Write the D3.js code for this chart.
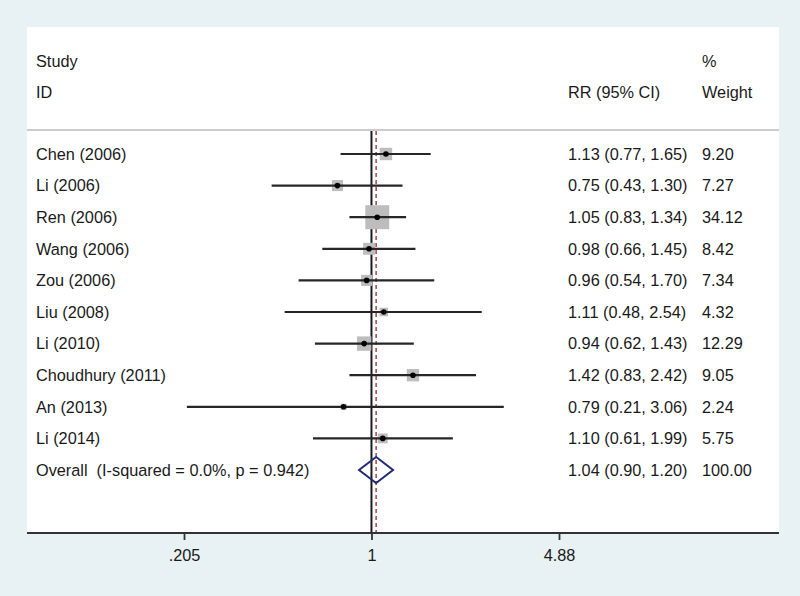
<!DOCTYPE html>
<html>
<head>
<meta charset="utf-8">
<script src="https://cdn.jsdelivr.net/npm/d3@7"></script>
<style>
  html, body { margin: 0; padding: 0; background: #e8f1f4; }
  svg { display: block; }
  text { font-family: "Liberation Sans", Arial, Helvetica, sans-serif; fill: #1a1a1a; }
</style>
</head>
<body>
<svg id="chart" width="800" height="596"></svg>
<script>
const studies = ["Chen (2006)", "Li (2006)", "Ren (2006)", "Wang (2006)", "Zou (2006)",
                 "Liu (2008)", "Li (2010)", "Choudhury (2011)", "An (2013)", "Li (2014)"];
const rr      = [1.13, 0.75, 1.05, 0.98, 0.96, 1.11, 0.94, 1.42, 0.79, 1.10];
const lower   = [0.77, 0.43, 0.83, 0.66, 0.54, 0.48, 0.62, 0.83, 0.21, 0.61];
const upper   = [1.65, 1.30, 1.34, 1.45, 1.70, 2.54, 1.43, 2.42, 3.06, 1.99];
const weights = [9.20, 7.27, 34.12, 8.42, 7.34, 4.32, 12.29, 9.05, 2.24, 5.75];

const overallLabel = "Overall  (I-squared = 0.0%, p = 0.942)";
const overallRR = 1.04, overallLo = 0.90, overallHi = 1.20, overallW = 100.00;

const tickValues = [0.205, 1, 4.88];
const tickLabels = [".205", "1", "4.88"];

const svg = d3.select("#chart");
const panel = {x0: 27, x1: 779, y0: 27, y1: 533};
const fs = 16.3;

// white panel
svg.append("rect").attr("x", panel.x0).attr("y", panel.y0)
  .attr("width", panel.x1 - panel.x0).attr("height", panel.y1 - panel.y0)
  .attr("fill", "#ffffff");

const x = d3.scaleLog().domain([0.205, 4.88]).range([184, 559]);
const y = d3.scaleLinear().domain([0, 10]).range([154, 470]);
const lineTop = 131;

// headers
const hdr = svg.append("g").attr("font-size", fs);
hdr.append("text").attr("x", 36).attr("y", 61).attr("dy", "0.35em").text("Study");
hdr.append("text").attr("x", 36).attr("y", 92).attr("dy", "0.35em").text("ID");
hdr.append("text").attr("x", 568).attr("y", 92).attr("dy", "0.35em").text("RR (95% CI)");
hdr.append("text").attr("x", 702).attr("y", 61).attr("dy", "0.35em").text("%");
hdr.append("text").attr("x", 702).attr("y", 92).attr("dy", "0.35em").text("Weight");

// separator
svg.append("line").attr("x1", panel.x0).attr("x2", panel.x1)
  .attr("y1", lineTop - 1).attr("y2", lineTop - 1)
  .attr("stroke", "#cccccc").attr("stroke-width", 2);

// null line
svg.append("line").attr("x1", x(1)).attr("x2", x(1))
  .attr("y1", lineTop).attr("y2", panel.y1)
  .attr("stroke", "#1a1a1a").attr("stroke-width", 2);

// overall dashed line
svg.append("line").attr("x1", x(overallRR)).attr("x2", x(overallRR))
  .attr("y1", lineTop).attr("y2", panel.y1)
  .attr("stroke", "#a3353f").attr("stroke-width", 1.4)
  .attr("stroke-dasharray", "4,3");

const data = studies.map((s, i) => ({s, rr: rr[i], lo: lower[i], hi: upper[i], w: weights[i], i}));
const side = w => 4.1 * Math.sqrt(w);

// squares
svg.append("g").selectAll("rect").data(data).join("rect")
  .attr("x", d => x(d.rr) - side(d.w) / 2)
  .attr("y", d => y(d.i) - side(d.w) / 2)
  .attr("width", d => side(d.w))
  .attr("height", d => side(d.w))
  .attr("fill", "#bdbdbd");

// CI lines
svg.append("g").selectAll("line").data(data).join("line")
  .attr("x1", d => x(d.lo)).attr("x2", d => x(d.hi))
  .attr("y1", d => y(d.i)).attr("y2", d => y(d.i))
  .attr("stroke", "#262626").attr("stroke-width", 2.2);

// point estimates
svg.append("g").selectAll("circle").data(data).join("circle")
  .attr("cx", d => x(d.rr)).attr("cy", d => y(d.i)).attr("r", 2.8)
  .attr("fill", "#000");

// diamond
const yo = y(10);
svg.append("path")
  .attr("d", `M${x(overallLo)},${yo} L${x(overallRR)},${yo - 13} L${x(overallHi)},${yo} L${x(overallRR)},${yo + 13} Z`)
  .attr("fill", "none").attr("stroke", "#1f2c72").attr("stroke-width", 2);

// text columns
const txt = svg.append("g").attr("font-size", fs);
txt.selectAll("text.study").data(data).join("text").attr("class", "study")
  .attr("x", 36).attr("y", d => y(d.i)).attr("dy", "0.35em").text(d => d.s);
txt.selectAll("text.rr").data(data).join("text").attr("class", "rr")
  .attr("x", 568).attr("y", d => y(d.i)).attr("dy", "0.35em")
  .text(d => `${d.rr.toFixed(2)} (${d.lo.toFixed(2)}, ${d.hi.toFixed(2)})`);
txt.selectAll("text.w").data(data).join("text").attr("class", "w")
  .attr("x", 702).attr("y", d => y(d.i)).attr("dy", "0.35em")
  .text(d => d.w.toFixed(2));
txt.append("text").attr("x", 36).attr("y", yo).attr("dy", "0.35em")
  .style("white-space", "pre").attr("xml:space", "preserve").text(overallLabel);
txt.append("text").attr("x", 568).attr("y", yo).attr("dy", "0.35em")
  .text(`${overallRR.toFixed(2)} (${overallLo.toFixed(2)}, ${overallHi.toFixed(2)})`);
txt.append("text").attr("x", 702).attr("y", yo).attr("dy", "0.35em")
  .text(overallW.toFixed(2));

// axis
svg.append("line").attr("x1", panel.x0).attr("x2", panel.x1)
  .attr("y1", panel.y1).attr("y2", panel.y1)
  .attr("stroke", "#333").attr("stroke-width", 2);
const axis = d3.axisBottom(x).tickValues(tickValues)
  .tickFormat((d, i) => tickLabels[i]).tickSize(7).tickPadding(9);
const ag = svg.append("g").attr("transform", `translate(0,${panel.y1})`).call(axis);
ag.select(".domain").remove();
ag.selectAll(".tick line").attr("stroke", "#333").attr("stroke-width", 1.8);
ag.selectAll(".tick text").attr("font-size", fs).attr("fill", "#1a1a1a")
  .attr("font-family", "Liberation Sans, Arial, sans-serif");
</script>
</body>
</html>
